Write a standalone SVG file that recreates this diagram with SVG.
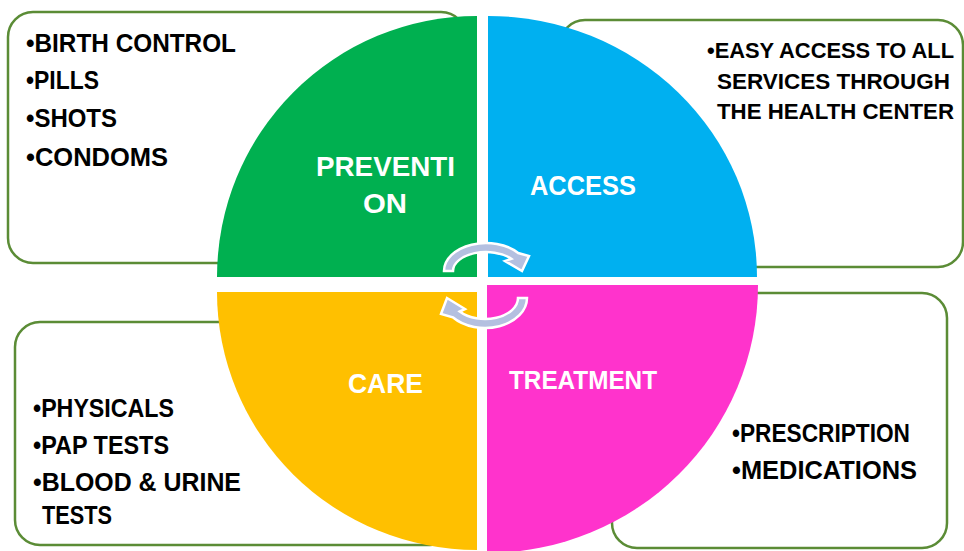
<svg xmlns="http://www.w3.org/2000/svg" width="964" height="551" viewBox="0 0 964 551">
<style>
.box{fill:#fff;stroke:#5B8C36;stroke-width:2.5}
.t{font-family:"Liberation Sans",Arial,sans-serif;font-weight:bold;font-size:25px;fill:#000}
.ta{font-family:"Liberation Sans",Arial,sans-serif;font-weight:bold;font-size:22px;fill:#000}
.lbl{font-family:"Liberation Sans",Arial,sans-serif;font-weight:bold;font-size:28px;fill:#fff;text-anchor:middle}
.arr{fill:#B4C0E0;stroke:#fff;stroke-width:2.5;stroke-linejoin:miter}
</style>
<rect width="964" height="551" fill="#fff"/>
<g id="box-prevention">
<rect class="box" x="8" y="12" width="458" height="251" rx="25"/>
<text class="t" x="26" y="52" textLength="210" lengthAdjust="spacingAndGlyphs">•BIRTH CONTROL</text>
<text class="t" x="26" y="89" textLength="73" lengthAdjust="spacingAndGlyphs">•PILLS</text>
<text class="t" x="26" y="127" textLength="91" lengthAdjust="spacingAndGlyphs">•SHOTS</text>
<text class="t" x="26" y="166" textLength="142" lengthAdjust="spacingAndGlyphs">•CONDOMS</text>
</g>
<g id="box-access">
<rect class="box" x="560" y="20" width="403" height="247" rx="25"/>
<text class="ta" x="707" y="58" textLength="247" lengthAdjust="spacingAndGlyphs">•EASY ACCESS TO ALL</text>
<text class="ta" x="717" y="89" textLength="233" lengthAdjust="spacingAndGlyphs">SERVICES THROUGH</text>
<text class="ta" x="717" y="119" textLength="237" lengthAdjust="spacingAndGlyphs">THE HEALTH CENTER</text>
</g>
<g id="box-care">
<rect class="box" x="15" y="322" width="440" height="223" rx="25"/>
<text class="t" x="33" y="417" textLength="141" lengthAdjust="spacingAndGlyphs">•PHYSICALS</text>
<text class="t" x="33" y="454" textLength="136" lengthAdjust="spacingAndGlyphs">•PAP TESTS</text>
<text class="t" x="33" y="491" textLength="208" lengthAdjust="spacingAndGlyphs">•BLOOD &amp; URINE</text>
<text class="t" x="42" y="524" textLength="70" lengthAdjust="spacingAndGlyphs">TESTS</text>
</g>
<g id="box-treatment">
<rect class="box" x="612" y="293" width="335" height="255" rx="25"/>
<text class="t" x="732" y="442" textLength="178" lengthAdjust="spacingAndGlyphs">•PRESCRIPTION</text>
<text class="t" x="732" y="479" textLength="185" lengthAdjust="spacingAndGlyphs">•MEDICATIONS</text>
</g>
<g id="node-prevention">
<path d="M477 277 L217 277 A260 261 0 0 1 477 16 Z" fill="#00B050"/>
<text class="lbl" x="385.5" y="176" textLength="139" lengthAdjust="spacingAndGlyphs">PREVENTI</text>
<text class="lbl" x="385" y="213" textLength="44" lengthAdjust="spacingAndGlyphs">ON</text>
</g>
<g id="node-access">
<path d="M488 277 L488 16 A269 261 0 0 1 757 277 Z" fill="#00B0F0"/>
<text class="lbl" x="583" y="195" textLength="106" lengthAdjust="spacingAndGlyphs">ACCESS</text>
</g>
<g id="node-care">
<path d="M477 292 L477 550 A260 258 0 0 1 217 292 Z" fill="#FFC000"/>
<text class="lbl" x="385.5" y="393" textLength="75" lengthAdjust="spacingAndGlyphs">CARE</text>
</g>
<g id="node-treatment">
<path d="M487 285 L758 285 A271 268 0 0 1 487 553 Z" fill="#FF33CC"/>
<text class="lbl" x="583" y="389" style="font-size:26px" textLength="148" lengthAdjust="spacingAndGlyphs">TREATMENT</text>
</g>
<g id="connectors">
<path class="arr" d="M444 271 A42 28 0 0 1 518.2 253 L529 256 L522 271 L505 261 L511.3 258.8 A33 19 0 0 0 453 271 Z"/>
<path class="arr" d="M527 298 A42 30 0 0 1 452.8 317.3 L441 314 L447 298 L465 309 L459.7 311.5 A33 21 0 0 0 518 298 Z"/>
</g>
</svg>
